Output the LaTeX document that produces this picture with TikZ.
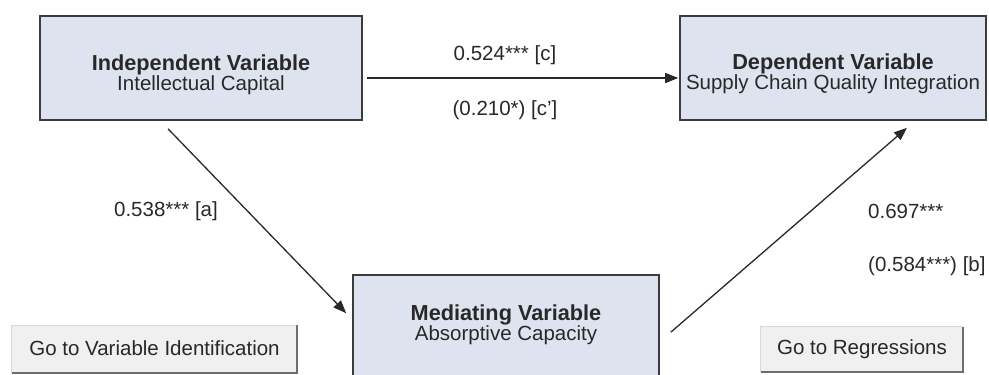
\documentclass[tikz,border=0pt]{standalone}
\usepackage{fontspec}
\setmainfont{Liberation Sans}
\usetikzlibrary{arrows.meta}
\definecolor{boxfill}{RGB}{221,228,239}
\definecolor{boxline}{RGB}{60,60,60}
\definecolor{ink}{RGB}{40,40,40}
\definecolor{btnfill}{RGB}{240,240,240}
\definecolor{btnlight}{RGB}{215,215,215}
\definecolor{btndark}{RGB}{110,110,110}
\newcommand{\vtitle}[1]{{\fontsize{21.7}{17}\selectfont\bfseries #1}}
\tikzset{
  varbox/.style={draw=boxline, line width=1.6pt, fill=boxfill, inner sep=0pt},
  vartext/.style={align=center, text=ink, inner sep=0pt,
    font=\fontsize{20.5}{17}\selectfont},
  pathlabel/.style={text=ink, inner sep=0pt, font=\fontsize{20.5}{20}\selectfont},
  btn/.style={fill=btnfill, inner sep=0pt, text=ink,
    font=\fontsize{20.5}{20}\selectfont},
  effect/.style={draw=ink, line width=1.3pt,
    -{Triangle[length=13pt,width=10pt]}},
}
\begin{document}
\begin{tikzpicture}[x=1pt,y=-1pt]
\useasboundingbox (0,0) rectangle (989,375);
\clip (0,0) rectangle (989,375);

% variable boxes
\node[varbox, minimum width=322pt, minimum height=104pt] (indep) at (201,68) {};
\node[vartext] (indeptext) at (201,75) {\vtitle{Independent Variable}\\Intellectual Capital};

\node[varbox, minimum width=306pt, minimum height=104pt] (dep) at (833,68) {};
\node[vartext] (deptext) at (833,74) {\vtitle{Dependent Variable}\\Supply Chain Quality Integration};

\node[varbox, minimum width=306pt, minimum height=150pt] (med) at (506,350) {};
\node[vartext] (medtext) at (506,325) {\vtitle{Mediating Variable}\\Absorptive Capacity};

% paths between the variables
\draw[effect] ([shift={(4,10)}]indep.east) -- ([shift={(-1,10)}]dep.west);
\draw[effect] ([shift={(-33,8)}]indep.south) -- ([shift={(-6,39)}]med.north west);
\draw[effect] ([shift={(11,58)}]med.north east) -- ([shift={(74,7)}]dep.south);

% coefficients
\node[pathlabel] (lc) at (505,55) {0.524*** [c]};
\node[pathlabel] (lcp) at (505,110) {(0.210*) [c']};
\node[pathlabel] (la) at (166,211) {0.538*** [a]};
\node[pathlabel, anchor=west] (lb1) at (868,211) {0.697***};
\node[pathlabel, anchor=west] (lb2) at (868,266) {(0.584***) [b]};

% navigation buttons
\node[btn, minimum width=285pt, minimum height=47pt] (btnvar) at (154.5,349) {\raisebox{2pt}{Go to Variable Identification}};
\draw[btnlight, line width=1pt] (btnvar.south west) -- (btnvar.north west) -- (btnvar.north east);
\draw[btndark, line width=2pt] (btnvar.south west) -- (btnvar.south east) -- (btnvar.north east);

\node[btn, minimum width=202pt, minimum height=45pt] (btnreg) at (862,349.5) {\raisebox{2pt}{Go to Regressions}};
\draw[btnlight, line width=1pt] (btnreg.south west) -- (btnreg.north west) -- (btnreg.north east);
\draw[btndark, line width=2pt] (btnreg.south west) -- (btnreg.south east) -- (btnreg.north east);
\end{tikzpicture}
\end{document}
